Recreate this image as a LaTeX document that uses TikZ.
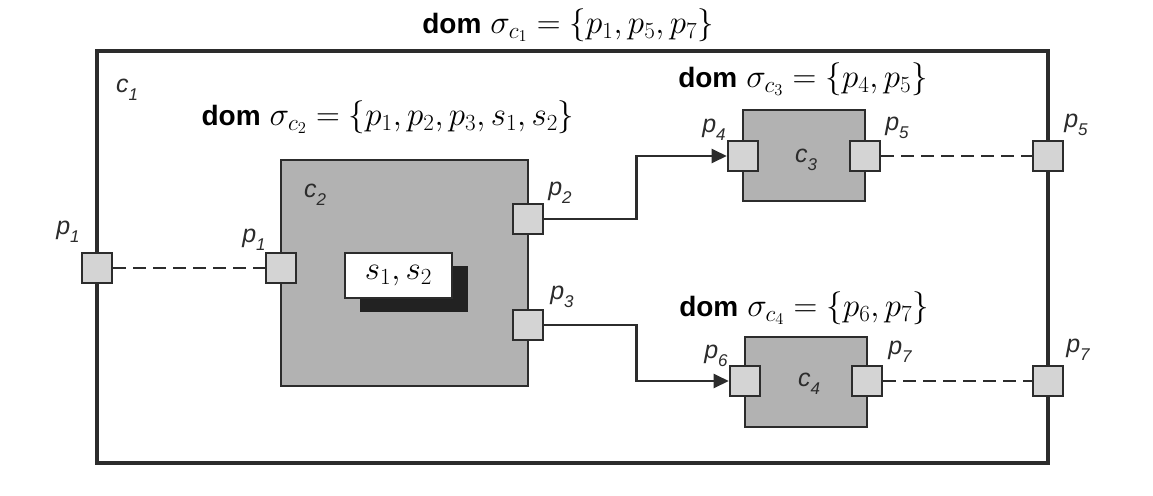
\RequirePackage{fix-cm}
\documentclass[tikz,border=0pt]{standalone}
\usepackage{fontspec}
\setsansfont{Liberation Sans}
\usetikzlibrary{arrows.meta,calc}
\definecolor{ink}{HTML}{2C2C2C}
\definecolor{compfill}{HTML}{B2B2B2}
\definecolor{portfill}{HTML}{D4D4D4}
\definecolor{shadowc}{HTML}{222222}
\newcommand\plab[2]{{\sffamily\itshape #1\raisebox{-0.3em}{\fontsize{17}{17}\selectfont #2}}}
\newcommand\domtxt[1]{{\fontsize{28}{30}\selectfont\sffamily\bfseries dom}\hspace{9pt}{\fontsize{33}{37}\selectfont$#1$}}
\begin{document}
\begin{tikzpicture}[x=1pt,y=-1pt,
  outerbox/.style={draw=ink,line width=4.2pt,minimum width=951pt,minimum height=412pt,inner sep=0pt},
  comp/.style={draw=ink,fill=compfill,line width=2.6pt,inner sep=0pt},
  port/.style={draw=ink,fill=portfill,line width=2.6pt,minimum size=30pt,inner sep=0pt},
  lbl/.style={inner sep=0pt,font=\fontsize{25}{25}\selectfont,text=ink},
  domlbl/.style={inner sep=0pt,text=black},
  link/.style={draw=ink,line width=2.4pt},
  arr/.style={link,-{Triangle[length=15pt,width=14pt]}},
  dashlink/.style={draw=ink,line width=2.4pt,dash pattern=on 13pt off 7pt}
]
\useasboundingbox[fill=white] (0,0) rectangle (1153,495);

% outer component c1
\node[outerbox] (c1) at (572.5,257) {};

% inner components
\node[comp,minimum width=247pt,minimum height=226pt] (c2) at (404.5,273) {};
\node[comp,minimum width=122pt,minimum height=91pt] (c3) at (804,155.5) {};
\node[comp,minimum width=122pt,minimum height=90pt] (c4) at (806,382) {};

% s1, s2 box with shadow
\node[fill=shadowc,minimum width=108pt,minimum height=46pt,inner sep=0pt] (sshadow) at (414,289) {};
\node[draw=ink,fill=white,line width=2pt,minimum width=107pt,minimum height=45pt,inner sep=0pt] (sbox) at (398.5,275.5) {\fontsize{33}{36}\selectfont$s_1, s_2$};

% ports
\node[port] (p1o) at (97,268) {};
\node[port] (p1i) at (281,268) {};
\node[port] (p2) at (528,219) {};
\node[port] (p3) at (528,325) {};
\node[port] (p4) at (743,156) {};
\node[port] (p5) at (865,156) {};
\node[port] (p6) at (745,381) {};
\node[port] (p7) at (867,381) {};
\node[port] (p5o) at (1048,156) {};
\node[port] (p7o) at (1048,381) {};

% connectors
\draw[dashlink] (p1o.east) -- (p1i.west);
\draw[arr] (p2.east) -- ++(92,0) |- (p4.west);
\draw[arr] (p3.east) -- ++(92,0) |- (p6.west);
\draw[dashlink] (p5.east) -- (p5o.west);
\draw[dashlink] (p7.east) -- (p7o.west);

% labels
\node[lbl] (lc1) at (127,90) {\plab{c}{1}};
\node[lbl] (lc2) at (315,195) {\plab{c}{2}};
\node[lbl] (lc3) at (806,160) {\plab{c}{3}};
\node[lbl] (lc4) at (809,384) {\plab{c}{4}};
\node[lbl] (lp1o) at (68,232) {\plab{p}{1}};
\node[lbl] (lp1i) at (254,240) {\plab{p}{1}};
\node[lbl] (lp2) at (560,193) {\plab{p}{2}};
\node[lbl] (lp3) at (562,297) {\plab{p}{3}};
\node[lbl] (lp4) at (714,130) {\plab{p}{4}};
\node[lbl] (lp5) at (897,128) {\plab{p}{5}};
\node[lbl] (lp5o) at (1076,125) {\plab{p}{5}};
\node[lbl] (lp6) at (716,356) {\plab{p}{6}};
\node[lbl] (lp7) at (900,352) {\plab{p}{7}};
\node[lbl] (lp7o) at (1078,350) {\plab{p}{7}};

% domain titles
\node[domlbl] (t1) at (568,25) {\domtxt{\sigma_{c_1}=\{p_1,p_5,p_7\}}};
\node[domlbl] (t2) at (388,117) {\domtxt{\sigma_{c_2}=\{p_1,p_2,p_3,s_1,s_2\}}};
\node[domlbl] (t3) at (803,79) {\domtxt{\sigma_{c_3}=\{p_4,p_5\}}};
\node[domlbl] (t4) at (804,308) {\domtxt{\sigma_{c_4}=\{p_6,p_7\}}};
\end{tikzpicture}
\end{document}
